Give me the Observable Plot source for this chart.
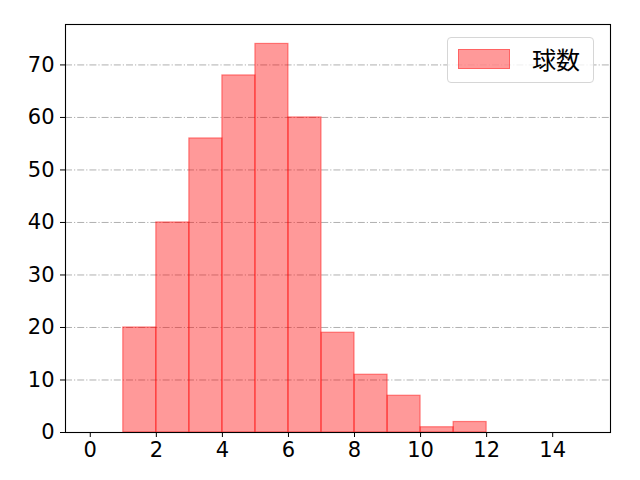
<!DOCTYPE html>
<html>
<head>
<meta charset="utf-8">
<script src="https://cdn.jsdelivr.net/npm/d3@7"></script>
<script src="https://cdn.jsdelivr.net/npm/@observablehq/plot@0.6"></script>
<style>
  html, body { margin: 0; padding: 0; background: #fff; }
  #wrap { position: relative; width: 640px; height: 480px; font-family: "Noto Sans CJK JP", sans-serif; }
  #legend { position: absolute; left: 447px; top: 37px; width: 147px; height: 46px; box-sizing: border-box;
    border: 1px solid #d6d6d6; border-radius: 4px; background: rgba(255,255,255,0.8); }
  #legend .sw { position: absolute; left: 10px; top: 11px; width: 52px; height: 20px; box-sizing: border-box;
    background: rgba(255,0,0,0.4); border: 1px solid rgba(255,0,0,0.35); }
  #legend .lb { position: absolute; left: 84px; top: 6px; font-size: 24px; line-height: 30px; color: #000; }
</style>
</head>
<body>
<div id="wrap"></div>
<script>
const binStarts = [0,1,2,3,4,5,6,7,8,9,10,11,12,13,14];
const counts    = [0,20,40,56,68,74,60,19,11,7,1,2,0,0,0];
const xTicks = [0,2,4,6,8,10,12,14];
const yTicks = [0,10,20,30,40,50,60,70];
const seriesName = "球数";

const bins = binStarts.map((s, i) => ({x1: s, x2: s + 1, y: counts[i]}));

const chart = Plot.plot({
  width: 640,
  height: 480,
  marginLeft: 65,
  marginRight: 30,
  marginTop: 24,
  marginBottom: 48,
  style: {fontFamily: "'DejaVu Sans', sans-serif", fontSize: "21px", color: "#000", background: "#fff"},
  x: {domain: [-0.75, 15.75], label: null},
  y: {domain: [0, 77.7], label: null},
  marks: [
    Plot.ruleY(yTicks.filter(d => d > 0), {stroke: "#b0b0b0", strokeWidth: 1, strokeDasharray: "7,2,1.2,2"}),
    Plot.rectY(bins, {x1: "x1", x2: "x2", y: "y", fill: "red", fillOpacity: 0.4, stroke: "red", strokeOpacity: 0.45, strokeWidth: 1.2}),
    Plot.axisX({ticks: xTicks, tickSize: 5, tickPadding: 5, fontSize: 21, tickFormat: d => String(d), label: null}),
    Plot.axisY({ticks: yTicks, tickSize: 5, tickPadding: 6, fontSize: 21, tickFormat: d => String(d), label: null}),
    Plot.frame({stroke: "#000", strokeWidth: 1.1})
  ]
});

const wrap = document.getElementById("wrap");
wrap.appendChild(chart);
const legend = document.createElement("div");
legend.id = "legend";
legend.innerHTML = `<div class="sw"></div><div class="lb"></div>`;
legend.querySelector(".lb").textContent = seriesName;
wrap.appendChild(legend);
</script>
</body>
</html>
